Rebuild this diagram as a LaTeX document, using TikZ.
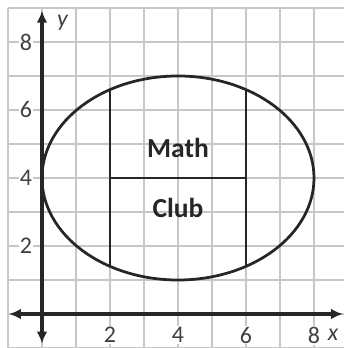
\documentclass[tikz,border=0pt]{standalone}
\usepackage{fontspec}
\setmainfont{Carlito}
\usetikzlibrary{arrows.meta,shapes.geometric}
\begin{document}
\begin{tikzpicture}[x=1cm,y=1cm,
  gridline/.style={draw=black!22,line width=0.9pt},
  axisline/.style={line width=2.8pt,black!85,{Latex[length=10pt,width=9pt]}-{Latex[length=10pt,width=9pt]}},
  shapeline/.style={line width=2.3pt,black!85},
  ticklabel/.style={fill=white,inner sep=1pt,font=\fontsize{20}{20}\selectfont,text=black!75},
  axislabel/.style={font=\fontsize{20}{20}\selectfont\itshape,text=black!75},
  clublabel/.style={font=\fontsize{23}{23}\selectfont\bfseries,text=black!85}]
\useasboundingbox (-1.235,-1.0) rectangle (8.88,9.235);
% grid
\foreach \i in {-1,...,8} \draw[gridline] (\i,-1.1) -- (\i,9);
\foreach \j in {-1,...,9} \draw[gridline] (-1,\j) -- (9,\j);
% tick labels
\foreach \v in {2,4,6,8} {
  \node[ticklabel] (xl\v) at (\v,-0.62) {\v};
  \node[ticklabel] (yl\v) at (-0.47,\v) {\v};
}
% axes
\coordinate (xa) at (-0.97,0);
\coordinate (xb) at (8.85,0);
\coordinate (ya) at (0,-0.87);
\coordinate (yb) at (0,8.92);
\draw[axisline] (xa) -- (xb);
\draw[axisline] (ya) -- (yb);
\node[axislabel] (xlab) at (8.56,-0.6) {x};
\node[axislabel] (ylab) at (0.6,8.58) {y};
% ellipse
\node[draw,shapeline,ellipse,minimum width=8cm,minimum height=6cm,inner sep=0pt,outer sep=0pt] (oval) at (4,4) {};
\coordinate (l1) at (2,1.402);
\coordinate (l2) at (2,6.598);
\coordinate (r1) at (6,1.402);
\coordinate (r2) at (6,6.598);
\coordinate (ml) at (2,4);
\coordinate (mr) at (6,4);
\draw[shapeline] (l1) -- (l2);
\draw[shapeline] (r1) -- (r2);
\draw[shapeline] (ml) -- (mr);
\node[clublabel] (math) at (4,4.88) {Math};
\node[clublabel] (club) at (4,3.12) {Club};
\end{tikzpicture}
\end{document}
